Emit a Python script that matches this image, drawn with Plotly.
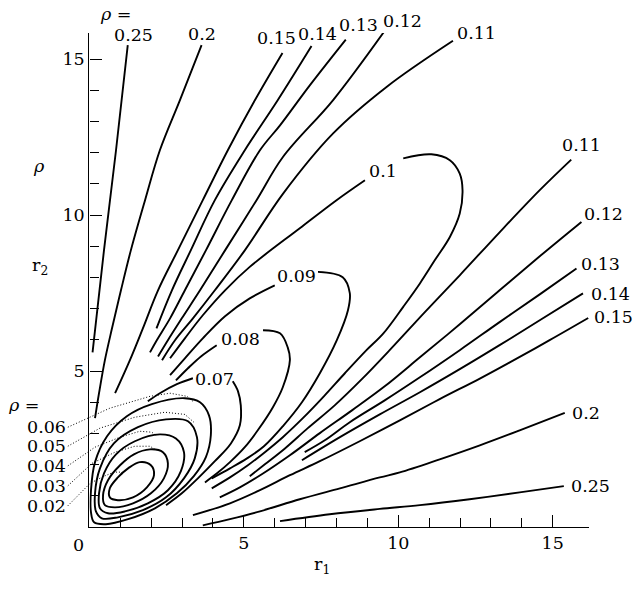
import plotly.graph_objects as go

# contour lines rho(r1, r2) (r1, r2)

# upper-left branches
u25_r1 = [1.24, 0.86, 0.47, 0.10]
u25_r2 = [15.45, 12.08, 8.87, 5.60]
u20_r1 = [3.63, 2.93, 2.28, 1.80, 1.34, 1.02, 0.73, 0.50, 0.31, 0.18]
u20_r2 = [15.45, 13.69, 12.08, 10.48, 8.87, 7.59, 6.37, 5.35, 4.29, 3.49]
u15_r1 = [6.25, 5.36, 4.48, 3.67, 2.86, 2.22, 1.73, 1.31, 0.83]
u15_r2 = [15.20, 13.69, 12.08, 10.48, 8.87, 7.59, 6.37, 5.35, 4.29]
u14_r1 = [7.19, 6.10, 5.03, 4.06, 3.28, 2.67, 2.17]
u14_r2 = [15.42, 13.69, 12.08, 10.48, 8.87, 7.59, 6.37]
u13_r1 = [8.30, 7.14, 6.17, 5.52, 4.61, 3.77, 3.09, 2.61, 2.18, 1.96]
u13_r2 = [15.63, 14.17, 12.88, 12.08, 10.48, 8.87, 7.59, 6.69, 5.99, 5.60]
u12_r1 = [9.56, 7.89, 6.27, 5.41, 4.39, 3.58, 2.99, 2.54, 2.22]
u12_r2 = [15.91, 13.69, 11.87, 10.48, 8.87, 7.59, 6.69, 5.99, 5.47]
u11_r1 = [11.77, 9.62, 7.89, 6.27, 5.03, 4.06, 3.35, 2.77, 2.35]
u11_r2 = [15.59, 14.11, 12.62, 10.69, 8.87, 7.59, 6.69, 5.99, 5.35]

# loops 0.1 .. 0.07: arm up to the label, then from the label round the bend
a10_r1 = [2.61, 3.09, 3.67, 4.39, 5.19, 6.81, 8.00, 8.92]
a10_r2 = [5.41, 6.05, 6.79, 7.59, 8.34, 9.58, 10.48, 11.12]
l10_r1 = [10.16, 11.07, 11.67, 11.99, 12.08, 11.99, 11.67, 11.18, 10.70, 10.16,
          9.51, 8.97, 8.27, 7.59, 6.91, 6.26, 5.68, 5.13, 4.55, 3.96]
l10_r2 = [11.82, 11.95, 11.76, 11.33, 10.80, 10.05, 9.30, 8.55, 7.81, 7.06,
          6.20, 5.67, 4.93, 4.19, 3.49, 2.88, 2.40, 1.98, 1.59, 1.24]
a09_r1 = [2.61, 3.09, 3.67, 4.39, 5.19, 6.00]
a09_r2 = [4.87, 5.41, 6.05, 6.76, 7.33, 7.75]
l09_r1 = [7.40, 8.20, 8.43, 8.37, 8.01, 7.46, 6.88, 6.26, 5.65, 5.10, 4.55, 3.96]
l09_r2 = [8.18, 8.01, 7.50, 6.95, 5.99, 4.93, 4.00, 3.23, 2.59, 2.20, 1.88, 1.56]
a08_r1 = [2.80, 3.19, 3.61, 4.12]
a08_r2 = [4.70, 5.09, 5.47, 5.83]
l08_r1 = [5.62, 6.17, 6.42, 6.49, 6.26, 5.94, 5.45, 5.03, 4.55, 4.13, 3.74]
l08_r2 = [6.31, 6.21, 5.76, 5.35, 4.48, 3.84, 3.10, 2.56, 2.08, 1.72, 1.43]
a07_r1 = [1.89, 2.28, 2.83, 3.35]
a07_r2 = [4.03, 4.29, 4.58, 4.77]
l07_r1 = [4.64, 4.81, 4.90, 4.87, 4.58, 4.06, 3.51, 2.99, 2.48]
l07_r2 = [4.67, 4.35, 3.90, 3.26, 2.68, 2.11, 1.56, 1.08, 0.70]

# closed curves 0.06 .. 0.02
e06_r1 = [3.09, 3.58, 3.87, 3.93, 3.77, 3.38, 2.83, 2.12, 1.25, 0.53, 0.15, 0.05, 0.05, 0.18, 0.57, 1.21, 2.02, 3.09]
e06_r2 = [4.13, 4.00, 3.58, 2.94, 2.24, 1.63, 1.08, 0.60, 0.25, 0.09, 0.15, 0.47, 1.18, 2.08, 2.91, 3.55, 3.94, 4.13]
e05_r1 = [3.19, 3.48, 3.41, 3.06, 2.48, 1.73, 0.92, 0.40, 0.21, 0.18, 0.34, 0.79, 1.57, 2.48, 3.19]
e05_r2 = [3.39, 2.88, 2.20, 1.56, 0.95, 0.54, 0.31, 0.28, 0.50, 1.08, 1.88, 2.68, 3.20, 3.45, 3.39]
e04_r1 = [2.28, 2.80, 3.06, 2.96, 2.54, 1.89, 1.15, 0.60, 0.34, 0.31, 0.47, 0.86, 1.47, 2.28]
e04_r2 = [2.97, 2.84, 2.40, 1.79, 1.18, 0.76, 0.50, 0.44, 0.60, 1.08, 1.72, 2.33, 2.75, 2.97]
e03_r1 = [1.96, 2.38, 2.54, 2.41, 1.99, 1.41, 0.83, 0.50, 0.44, 0.60, 0.99, 1.44, 1.96]
e03_r2 = [2.49, 2.40, 2.04, 1.56, 1.08, 0.76, 0.63, 0.70, 1.02, 1.50, 1.98, 2.33, 2.49]
e02_r1 = [1.63, 1.99, 2.09, 1.86, 1.41, 0.92, 0.66, 0.66, 0.92, 1.25, 1.63]
e02_r2 = [2.08, 1.98, 1.66, 1.27, 0.95, 0.86, 0.95, 1.24, 1.59, 1.88, 2.08]

# lower-right branches
d11_r1 = [15.60, 14.58, 13.28, 11.99, 10.86, 9.72, 8.82, 7.94, 7.07, 6.33, 5.68, 5.19]
d11_r2 = [11.78, 10.80, 9.45, 8.07, 6.89, 5.67, 4.74, 3.90, 3.17, 2.52, 2.01, 1.63]
d12_r1 = [15.93, 14.58, 13.28, 11.99, 10.70, 9.56, 8.50, 7.46, 6.49, 5.58, 4.87, 4.22]
d12_r2 = [9.78, 8.68, 7.59, 6.50, 5.44, 4.51, 3.74, 3.01, 2.30, 1.69, 1.27, 0.95]
d13_r1 = [15.77, 14.58, 13.28, 11.99, 10.70, 9.56, 8.43, 7.62, 6.97]
d13_r2 = [8.29, 7.46, 6.57, 5.67, 4.80, 4.06, 3.36, 2.78, 2.40]
d14_r1 = [15.98, 14.58, 13.28, 11.99, 10.70, 9.40, 8.11, 6.88]
d14_r2 = [7.49, 6.63, 5.83, 5.06, 4.32, 3.61, 2.88, 2.14]
d15_r1 = [16.15, 14.90, 13.61, 12.64, 11.34, 10.05, 8.75, 7.46, 6.49, 5.52, 4.55, 3.35]
d15_r2 = [6.70, 5.99, 5.28, 4.76, 4.10, 3.42, 2.75, 2.11, 1.66, 1.18, 0.76, 0.38]
d20_r1 = [15.39, 13.93, 12.64, 11.34, 10.05, 9.40, 8.11, 6.81, 5.52, 4.55, 3.67]
d20_r2 = [3.66, 3.10, 2.62, 2.17, 1.75, 1.59, 1.24, 0.89, 0.50, 0.25, 0.05]
d25_r1 = [15.36, 13.93, 12.31, 10.70, 9.40, 7.78, 6.17]
d25_r2 = [1.31, 1.11, 0.89, 0.70, 0.58, 0.41, 0.19]

# dotted leaders from the left-hand labels
ld06_r1 = [-0.70, 0.66, 1.96, 2.61, 3.16, 3.35]
ld06_r2 = [3.20, 3.81, 4.19, 4.29, 4.19, 4.03]
ld05_r1 = [-0.70, 0.34, 1.47, 2.44, 3.09, 3.38]
ld05_r2 = [2.59, 3.17, 3.52, 3.68, 3.61, 3.36]
ld04_r1 = [-0.70, 0.18, 0.99, 1.63, 2.02, 2.18]
ld04_r2 = [1.96, 2.56, 2.88, 3.07, 3.04, 2.91]
ld03_r1 = [-0.70, 0.08, 0.83, 1.47, 1.96, 2.12]
ld03_r2 = [1.32, 2.04, 2.40, 2.59, 2.59, 2.49]
ld02_r1 = [-0.70, 0.02, 0.45, 0.80, 1.00, 1.08]
ld02_r2 = [0.68, 1.40, 1.62, 1.76, 1.76, 1.70]

# contour labels
lab_text = ['0.25', '0.2', '0.15', '0.14', '0.13', '0.12', '0.11', '0.1', '0.09', '0.08', '0.07',
            '0.11', '0.12', '0.13', '0.14', '0.15', '0.2', '0.25']
lab_r1 = [1.42, 3.63, 6.05, 7.40, 8.70, 10.14, 12.53, 9.50, 6.72, 4.90, 4.05,
          15.94, 16.65, 16.55, 16.86, 16.97, 16.08, 16.23]
lab_r2 = [15.77, 15.82, 15.67, 15.81, 16.09, 16.22, 15.85, 11.42, 8.04, 6.04, 4.75,
          12.24, 10.04, 8.44, 7.48, 6.74, 3.66, 1.32]
left_text = ['0.06', '0.05', '0.04', '0.03', '0.02']
left_r2 = [3.20, 2.59, 1.96, 1.32, 0.68]

major_vals = [5, 10, 15]
minor_vals = [1, 2, 3, 4, 6, 7, 8, 9, 11, 12, 13, 14]

X0, X1, Y1 = 0.15188, 16.175, 15.84   # x domain start, axis ranges


def px(r1):
    # data r1 -> paper x (things outside the axis ranges)
    return X0 + r1 / X1 * (1 - X0)


def py(r2):
    return r2 / Y1


solid = [(u25_r1, u25_r2), (u20_r1, u20_r2), (u15_r1, u15_r2), (u14_r1, u14_r2),
         (u13_r1, u13_r2), (u12_r1, u12_r2), (u11_r1, u11_r2),
         (a10_r1, a10_r2), (l10_r1, l10_r2), (a09_r1, a09_r2), (l09_r1, l09_r2),
         (a08_r1, a08_r2), (l08_r1, l08_r2), (a07_r1, a07_r2), (l07_r1, l07_r2),
         (e06_r1, e06_r2), (e05_r1, e05_r2), (e04_r1, e04_r2), (e03_r1, e03_r2), (e02_r1, e02_r2),
         (d11_r1, d11_r2), (d12_r1, d12_r2), (d13_r1, d13_r2), (d14_r1, d14_r2),
         (d15_r1, d15_r2), (d20_r1, d20_r2), (d25_r1, d25_r2)]
leaders = [(ld06_r1, ld06_r2), (ld05_r1, ld05_r2), (ld04_r1, ld04_r2),
           (ld03_r1, ld03_r2), (ld02_r1, ld02_r2)]

fig = go.Figure()
for xs, ys in solid:
    fig.add_trace(go.Scatter(x=xs, y=ys, mode='lines', hoverinfo='skip',
                             line=dict(color='black', width=1.9, shape='spline', smoothing=1)))

# leaders run left of r1 = 0, so draw them as paper shapes
shapes = []
for xs, ys in leaders:
    path = 'M ' + ' L '.join('%.5f,%.5f' % (px(a), py(b)) for a, b in zip(xs, ys))
    shapes.append(dict(type='path', path=path, xref='paper', yref='paper',
                       line=dict(color='black', width=1, dash='1px,2px')))

ann = []
for t, x, y in zip(lab_text, lab_r1, lab_r2):
    ann.append(dict(x=px(x), y=py(y), text=t))
for t, y in zip(left_text, left_r2):
    ann.append(dict(x=px(-1.375), y=py(y), text=t, height=18))
ann.append(dict(x=px(-2.12), y=py(3.90), text='<i>ρ</i> =', height=18))
ann.append(dict(x=px(0.86), y=py(16.44), text='<i>ρ</i> ='))
ann.append(dict(x=px(-1.63), y=py(11.57), text='<i>ρ</i>'))
ann.append(dict(x=px(-1.60), y=py(8.35), text='r<sub>2</sub>'))
ann.append(dict(x=px(7.52), y=py(-1.23), text='r<sub>1</sub>'))
ann.append(dict(x=px(-0.37), y=py(-0.59), text='0'))
for a in ann:
    a.update(xref='paper', yref='paper', showarrow=False,
             xanchor='center', yanchor='middle')

axis_style = dict(showline=True, linecolor='black', linewidth=1.4, ticks='inside',
                  ticklen=12, tickwidth=1.3, tickcolor='black', showgrid=False,
                  zeroline=False, tickmode='array', tickvals=major_vals,
                  minor=dict(tickmode='array', tickvals=minor_vals, ticks='inside',
                             ticklen=9, tickwidth=1.3, tickcolor='black', showgrid=False))

fig.update_layout(
    width=642, height=589,
    margin=dict(l=0, r=52.7, t=33, b=62.3, autoexpand=False),
    paper_bgcolor='white', plot_bgcolor='white', showlegend=False,
    font=dict(family='DejaVu Serif', size=17.5, color='black'),
    xaxis=dict(domain=[X0, 1], range=[0, X1], anchor='y', **axis_style),
    yaxis=dict(domain=[0, 1], range=[0, Y1], anchor='x', **axis_style),
    annotations=ann,
    shapes=shapes,
)

fig.write_html("out.html", config={'displayModeBar': False},
               post_script="document.body.style.margin='0';")
